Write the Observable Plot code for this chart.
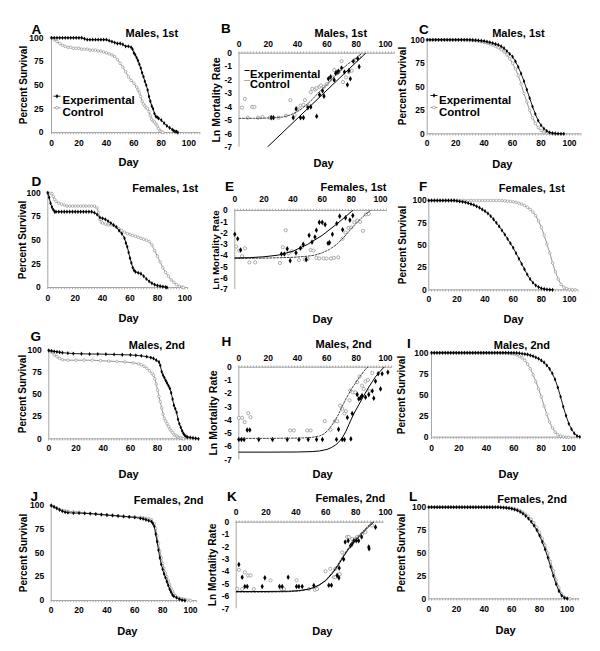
<!DOCTYPE html>
<html><head><meta charset="utf-8">
<script src="https://cdn.jsdelivr.net/npm/d3@7"></script>
<script src="https://cdn.jsdelivr.net/npm/@observablehq/plot@0.6"></script>
<style>
body{margin:0;background:#fff;}
#fig{position:relative;width:600px;height:651px;overflow:hidden;background:#fff;}
#fig svg{position:absolute;}
.ylab{position:absolute;white-space:nowrap;font-family:"Liberation Sans",Arial,Helvetica,sans-serif;font-weight:bold;color:#000;line-height:1;transform:translate(-50%,-50%) rotate(-90deg);}
</style></head><body><div id="fig"></div>
<script>
// ---------- tick labels ----------
const xTicks = [0, 20, 40, 60, 80, 100];
const survTicks = [0, 25, 50, 75, 100];
const lnTicks = [0, -1, -2, -3, -4, -5, -6, -7];

// ---------- observed survival (A, D, G, J): [day, percent] ----------
const A_exp = [[0,100],[2,100],[4,100],[6,100],[8,100],[10,100],[12,100],[14,100],[16,100],[18,100],[20,100],[22,100],[24,99],[26,98],[28,98],[30,98],[32,98],[34,98],[36,98],[38,98],[40,98],[42,97],[44,96],[46,95],[48,94],[50,94],[52,93],[54,91],[56,91],[58,90],[59,88],[60,84],[61,82],[62,79],[63,76],[64,72],[65,68],[66,63],[67,59],[68,54],[69,50],[70,45],[71,38],[72,33],[73,28],[74,25],[75,20],[76,17],[77,16],[78,15],[80,13],[82,10],[84,7],[86,5],[88,3],[89,2],[90,1],[91,1],[92,0]];
const A_ctrl = [[0,100],[2,98],[4,96],[6,94],[8,92],[10,91],[12,90],[14,90],[16,89],[18,89],[20,89],[22,88],[24,88],[26,88],[28,87],[30,87],[32,87],[34,86],[36,86],[38,85],[40,84],[42,83],[44,82],[46,80],[48,77],[50,73],[52,69],[54,64],[56,59],[58,55],[60,52],[62,48],[63,45],[64,42],[65,38],[66,33],[67,30],[68,28],[69,26],[70,25],[71,22],[72,18],[73,14],[74,12],[75,11],[76,9],[77,7],[78,4],[79,2],[80,1],[81,0]];
const D_exp = [[0,100],[1,95],[2,89],[3,85],[4,82],[5,80],[6,80],[8,80],[10,80],[12,80],[14,80],[16,80],[18,80],[20,80],[22,80],[24,80],[26,80],[28,80],[30,80],[32,80],[34,79],[36,77],[38,74],[40,73],[42,72],[44,70],[46,68],[48,66],[50,64],[52,60],[54,57],[56,52],[57,47],[58,43],[59,37],[60,31],[61,26],[62,21],[63,18],[64,16.5],[66,15.5],[68,14.5],[70,12],[72,9],[74,6.5],[76,4.5],[78,3],[80,2],[82,1.5],[84,1],[86,0.5],[87,0]];
const D_ctrl = [[0,100],[2,99.5],[3,99],[4,96],[5,93],[6,91],[8,89],[10,88],[12,87],[14,86],[16,86],[18,86],[20,86],[22,86],[24,86],[26,86],[28,86],[30,86],[32,86],[34,86],[36,84],[37,79],[38,72],[39,69],[40,68],[42,67],[44,66],[46,66],[48,65.5],[50,64],[52,62],[54,60],[56,58.5],[58,57],[60,56],[62,55],[64,54],[66,53],[68,52],[70,51],[72,50],[74,48.5],[76,45],[78,39],[80,33],[82,27],[84,21],[86,16],[88,12],[90,8],[92,5.5],[94,3],[96,1.5],[98,0.5],[99,0]];
const G_exp = [[0,100],[2,99.5],[4,99],[6,98.5],[8,98],[10,97.5],[14,97],[18,96.5],[24,96.3],[30,96],[36,96],[42,95.8],[48,95.5],[54,95.2],[60,95],[64,94.5],[68,94],[72,93],[75,92],[77,91],[79,89],[81,87],[82,83],[83,76],[84,72],[85,69],[86,66],[87,63],[88,60],[89,57],[90,52],[91,45],[92,38],[93,34],[94,30],[95,22],[96,17],[97,13],[98,9],[99,6],[100,4],[101,2.5],[102,2],[104,1.5],[106,1],[108,0.5],[110,0]];
const G_ctrl = [[0,100],[2,98],[4,95],[6,93],[8,91],[10,89.5],[14,89],[20,89],[26,89],[32,89],[38,88.5],[44,88],[50,87.5],[56,87],[62,86],[66,85],[68,84],[70,82],[72,80],[74,77],[76,74],[77,72],[78,68],[79,62],[80,55],[81,48],[82,42],[83,35],[84,28],[85,23],[86,20],[87,17],[88,14],[89,11],[90,9],[91,7],[92,5],[93,4],[94,3],[95,2],[96,1.5],[97,1],[98,0.5],[99,0]];
const J_exp = [[0,100],[2,98.5],[4,97],[6,95.5],[8,94],[10,93],[12,92.5],[16,92],[20,92],[24,91.8],[28,91.5],[32,91],[36,90.5],[40,90],[44,89.5],[48,89],[52,88.5],[56,88],[60,87.5],[64,86.5],[66,86],[68,85],[70,84],[72,83],[73,81],[74,78],[75,70],[76,62],[77,53],[78,45],[79,38],[80,33],[81,28],[82,24],[83,20],[84,16],[85,12],[86,9],[87,6],[88,4.5],[90,3],[92,1.5],[94,0.5],[96,0]];
const J_ctrl = [[0,100],[2,99],[4,97.5],[6,96],[8,95],[10,94.5],[12,94],[16,93.5],[20,93],[24,92],[28,91.5],[32,91],[36,90.5],[40,90],[44,89.5],[48,89],[52,88.5],[56,88],[60,88],[64,87.5],[66,87],[68,86.5],[70,86],[72,85],[74,81],[75,76],[76,68],[77,60],[78,52],[79,45],[80,39],[81,34],[82,29],[83,25],[84,21],[85,17],[86,13],[87,10],[88,7],[89,5],[90,3.5],[92,2.5],[94,1.8],[96,1],[98,0.5],[100,0]];

// ---------- fitted survival (C, F, I, L) on a 2-day grid ----------
const modelDays = [0,2,4,6,8,10,12,14,16,18,20,22,24,26,28,30,32,34,36,38,40,42,44,46,48,50,52,54,56,58,60,62,64,66,68,70,72,74,76,78,80,82,84,86,88,90,92,94,96,98,100,102,104,106,108,110];
const C_exp = [100,100,100,100,100,100,100,100,100,100,100,100,100,100,100,100,99.8,99.6,99.3,99,98.6,98,97.3,96.5,95.5,94.5,93,91,88,85,82,77,71,64,56,47,38,29,21,14,9,5.5,3,1.5,0.7,0.3,0.1,0,0,null,null,null,null,null,null,null];
const C_ctrl = [100,100,100,100,100,100,100,100,100,100,100,100,100,100,99.8,99.6,99.3,99,98.5,98,97.3,96.5,95.5,94.3,93,91.5,89.5,87,84,80,75,69,62,53,43,34,25,17,11,6.5,3.5,1.8,0.8,0.3,0.1,0,null,null,null,null,null,null,null,null,null,null];
const F_exp = [100,100,100,100,100,100,100,100,100,100,99.5,99,98.5,98,97,96,95,93.5,92,90,88,85.5,82.5,79,75,71,66.5,62,57,52,47,41,35,29,23,17,12,8,5,3,1.7,0.9,0.4,0.1,0,null,null,null,null,null,null,null,null,null,null,null];
const F_ctrl = [100,100,100,100,100,100,100,100,100,100,100,100,100,100,100,100,100,100,100,100,100,100,100,100,100,100,99.8,99.6,99.3,99,98.5,98,97,96,94.5,92.5,90,87,83,77,70,61,51,41,30,20,12,6,3,1.2,0.4,0.1,0,null,null,null];
const I_exp = [100,100,100,100,100,100,100,100,100,100,100,100,100,100,100,100,100,100,100,100,100,100,100,100,100,100,100,100,100,100,100,99.8,99.5,99,98.5,98,97,96,94.5,93,91,88.5,85,81,75.5,68.5,59,48,36,25.5,16,9.5,4.5,1.5,0.3,null];
const I_ctrl = [100,100,100,100,100,100,100,100,100,100,100,100,100,100,100,100,100,100,100,100,100,100,100,100,100,100,100,99.7,99.4,99,98.5,97.5,96,94,91,86.5,81,74,66,57,48,37,27,18,11,6,3,1.3,0.5,0.1,0,null,null,null,null,null];
const L_exp = [100,100,100,100,100,100,100,100,100,100,100,100,100,100,100,100,100,100,100,100,100,100,100,100,100,100,99.8,99.6,99.3,98.9,98.3,97.5,96.5,95,93,90.5,87.5,84,80,75,69,62,54,45,35,25,16,8.5,3.5,1,0.2,null,null,null,null,null];
const L_ctrl = [100,100,100,100,100,100,100,100,100,100,100,100,100,100,100,100,100,100,100,100,100,100,100,100,100,100,99.9,99.7,99.5,99.2,98.8,98.2,97.3,96.2,94.5,92.5,90,87,83,78,72.5,66,58.5,50,40.5,30.5,20.5,12,5.5,2,0.5,0,null,null,null,null];

// ---------- ln mortality (B, E, H, K): [day, ln rate] ----------
const B_expPts = [[22,-4.8],[23.5,-4.8],[37,-4.8],[39,-4.15],[42,-4.8],[44,-4.8],[47,-4.05],[49,-4.0],[53,-4.7],[55,-3.1],[57,-2.8],[58,-3.2],[61,-1.9],[62.5,-1.75],[65,-2.0],[66,-1.5],[67,-1.4],[68,-1.35],[70,-1.1],[72,-1.4],[74,-2.35],[75,-1.3],[76,-1.9],[78,-0.6],[81,-0.4],[82,-1.0]];
const B_ctrlPts = [[2,-4.05],[4,-3.4],[6,-4.8],[9,-4.0],[10.5,-4.0],[13,-4.8],[16,-4.75],[21,-4.8],[27,-4.8],[32,-4.65],[35,-3.5],[38,-4.6],[40,-4.15],[42,-3.9],[44,-3.85],[45,-3.5],[47,-3.9],[49,-2.9],[50,-2.65],[52,-2.7],[53,-2.6],[55,-2.5],[56,-2.4],[58,-2.5],[60,-2.3],[62,-2.0],[64,-1.8],[65,-1.25],[67,-1.5],[68,-1.4],[70,-0.6],[71,-2.15],[73,-1.8],[75,-1.4],[77,-1.3],[80,-0.5],[82,-0.3]];
const B_expFit = [[19.3,-7],[86.4,0]];
const B_ctrlFit = [[0,-4.85],[10,-4.85],[20,-4.83],[30,-4.75],[35,-4.6],[40,-4.35],[45,-3.95],[50,-3.45],[55,-2.85],[60,-2.35],[65,-1.75],[70,-1.2],[75,-0.75],[80,-0.35],[84,0]];

const E_expPts = [[0,-2.1],[2,-2.5],[4,-3.5],[32,-3.85],[34,-3.85],[36,-3.4],[38,-4.45],[42,-3.75],[45,-3.35],[47,-3.0],[49,-4.35],[51,-2.2],[53,-2.8],[55,-2.35],[56,-1.75],[58,-1.05],[60,-1.05],[62,-1.25],[64,-2.9],[65,-2.85],[67,-2.1],[70,-1.15],[72,-0.5],[74,-1.7],[76,-0.65],[79,-0.85],[81,-0.45]];
const E_ctrlPts = [[1,-3.2],[3,-3.55],[5,-4.05],[7,-3.35],[10,-4.6],[14,-4.6],[31,-4.65],[33,-3.25],[35,-1.75],[37,-3.8],[39,-3.6],[44,-4.4],[46,-3.25],[48,-4.35],[50,-4.3],[52,-3.5],[54,-3.55],[56,-4.2],[58,-4.25],[61,-4.25],[63,-4.25],[66,-4.25],[68,-4.2],[71,-4.15],[74,-2.5],[76,-1.95],[78,-1.55],[80,-1.5],[82,-1.05],[84,-0.9],[86,-1.0],[88,-1.8],[90,-0.35],[92,-0.3]];
const E_expFit = [[0,-4.2],[10,-4.18],[20,-4.1],[30,-3.95],[40,-3.6],[50,-3.0],[60,-2.2],[70,-1.2],[75,-0.65],[80,-0.1],[81,0]];
const E_ctrlFit = [[0,-4.25],[20,-4.22],[40,-4.15],[50,-4.05],[55,-3.95],[60,-3.75],[65,-3.45],[70,-3.0],[75,-2.35],[80,-1.6],[85,-0.9],[90,-0.3],[93,0]];

const H_expPts = [[0,-5.47],[1.8,-5.47],[3.6,-5.47],[5.7,-4.75],[7.5,-4.75],[13.6,-5.47],[23,-5.47],[33,-5.47],[41,-5.47],[47.3,-5.47],[53,-5.47],[57,-5.47],[66.6,-5.47],[68,-4.7],[70.5,-5.47],[72,-5.47],[76.4,-5.42],[74,-3.8],[77.3,-3.5],[80.7,-2.07],[81.8,-2.4],[83,-2.3],[84,-2.15],[86.4,-2.27],[88.6,-2.07],[91,-1.8],[92,-2.35],[93.2,-1.06],[95,-0.5],[96.6,-1.64],[97.7,-0.5],[101.6,-0.38]];
const H_ctrlPts = [[0,-3.83],[2.3,-3.83],[4,-4.15],[6.4,-3.48],[8,-3.78],[35,-4.78],[37.5,-4.78],[46.6,-4.78],[49,-4.78],[58.6,-4.08],[62.5,-4.73],[65.5,-4.08],[67,-4.08],[69,-2.9],[70.5,-3.15],[72,-3.5],[73,-3.32],[75.5,-2.5],[76,-1.76],[77.7,-1.9],[79.5,-1.9],[80.7,-1.13],[82.3,-0.7],[84,-1.39],[85.2,-1.64],[86.4,-1.08],[88,-0.96],[89,-1.8],[91,-0.43]];
const H_expFit = [[0,-6.42],[20,-6.42],[40,-6.41],[50,-6.38],[55,-6.33],[60,-6.22],[63,-6.08],[66,-5.88],[68,-5.68],[70.5,-5.35],[73,-4.85],[75,-4.35],[77,-3.85],[79.5,-3.3],[82,-2.8],[84,-2.4],[86,-2.0],[88.6,-1.5],[91,-1.1],[93,-0.75],[96,-0.35],[99,0]];
const H_ctrlFit = [[0,-5.38],[20,-5.38],[40,-5.36],[45,-5.34],[50,-5.3],[55,-5.2],[58,-5.05],[61,-4.75],[64,-4.3],[66,-3.95],[68,-3.55],[70.5,-2.95],[73,-2.4],[75,-2.0],[77,-1.6],[79.5,-1.2],[82,-0.8],[84,-0.5],[86,-0.2],[88,0]];

const K_expPts = [[1.8,-3.42],[4,-4.45],[5.8,-5.2],[7.4,-5.2],[17.4,-5.2],[19.2,-4.5],[29,-5.2],[30.8,-5.2],[34.8,-4.45],[40.4,-5.2],[42,-5.2],[44.2,-5.2],[52,-5.12],[62,-5.1],[63.8,-5.1],[67.6,-4.3],[68.8,-4.5],[69,-3.7],[72,-3.0],[73,-1.6],[75,-1.5],[76.6,-1.9],[77.7,-1.75],[78.8,-1.5],[80.4,-1.5],[82,-1.5],[84,-1.2],[88.8,-2.0],[89,-2.15],[93.3,-0.4]];
const K_ctrlPts = [[0.7,-5.4],[1.8,-3.85],[4,-5.4],[5.8,-4.05],[8,-4.3],[9.6,-4.3],[11.8,-5.4],[23,-4.7],[30.4,-5.4],[32,-5.4],[40.4,-4.7],[48.7,-5.4],[52.7,-5.47],[54.2,-5.4],[59.8,-3.96],[63,-3.77],[65.4,-4.45],[66.5,-4.45],[66.5,-3.77],[69.4,-4.2],[71,-2.43],[74.3,-1.2],[75.4,-1.2],[77.7,-1.35],[80,-1.35],[81,-1.2],[84.4,-0.95],[86.6,-0.8],[91,-0.27]];
const K_expFit = [[0,-5.6],[20,-5.6],[35,-5.58],[42,-5.53],[48,-5.42],[52,-5.28],[56,-5.05],[60,-4.72],[64,-4.2],[68,-3.55],[72,-2.75],[76,-2.05],[80,-1.45],[84,-0.95],[88,-0.45],[92,0]];
const K_ctrlFit = [[0,-5.65],[20,-5.65],[35,-5.62],[42,-5.56],[48,-5.44],[52,-5.3],[56,-5.05],[60,-4.68],[64,-4.12],[68,-3.45],[72,-2.65],[76,-1.95],[80,-1.35],[84,-0.85],[88,-0.35],[91,0]];

// ---------- drawing ----------
const fig = document.getElementById("fig");
const FONT = '"Liberation Sans", Arial, Helvetica, sans-serif';
const AX = "#a6a6a6", GRAY = "#8a8a8a";
const hline = {draw(ctx, size) { const r = Math.sqrt(size / Math.PI); ctx.moveTo(-r, 0); ctx.lineTo(r, 0); }};
const zip = (days, vals) => days.map((d, i) => [d, vals[i]]).filter(p => p[1] != null);
const bold = {fontWeight: "bold", fill: "black"};

function panel(c) {
  const [L, T, W, H] = c.cell;
  const ln = c.type === "ln";
  const k = (c.x100 - c.x0) / 100;
  const xEnd = c.x0 + c.xMax * k;
  const at = (px, py) => ({frameAnchor: "top-left", dx: px - c.x0, dy: py - c.yTop});
  const minor = d3.range(0, c.xMax + 0.001, 2);
  const marks = [
    Plot.ruleY([0], {stroke: AX, strokeWidth: 1}),
    Plot.ruleX([0], {stroke: AX, strokeWidth: 1}),
    Plot.axisX({anchor: ln ? "top" : "bottom", ticks: minor, tickSize: 2.2, tickFormat: () => "", stroke: AX, label: null}),
    Plot.text(xTicks, {x: d => d, frameAnchor: ln ? "top" : "bottom", dy: c.tickY - (ln ? c.yTop : c.yBot) + (ln ? 0.7 : 0), fontSize: 8.5, ...bold}),
    Plot.text(ln ? lnTicks : survTicks, {y: d => d, frameAnchor: "left", dx: -c.yPad, textAnchor: "end", fontSize: 8.5, ...bold}),
    Plot.text([c.title], {...at(c.titleX, c.titleY - (ln ? 1 : 0)), fontSize: 11, ...bold}),
    Plot.text([c.letter], {...at(c.letterX, c.letterY - 2), fontSize: 13.5, ...bold}),
    Plot.text(["Day"], {...at(c.dayX, c.dayY), fontSize: 11, ...bold})
  ];
  if (ln) {
    marks.push(
      Plot.dot(c.ctrlPts, {x: d => d[0], y: d => d[1], r: 1.6, stroke: GRAY, fill: "white", strokeWidth: 0.7}),
      Plot.dot(c.expPts, {x: d => d[0], y: d => d[1], r: 1.7, symbol: "diamond", fill: "black"}),
      Plot.line(c.ctrlFit, {x: d => d[0], y: d => d[1], stroke: "#444", strokeWidth: 1, strokeDasharray: "2,1.5", clip: true}),
      Plot.line(c.expFit, {x: d => d[0], y: d => d[1], stroke: "black", strokeWidth: 1, clip: true})
    );
  } else {
    marks.push(
      Plot.line(c.ctrl, {x: d => d[0], y: d => d[1], stroke: GRAY, strokeWidth: 0.9}),
      Plot.dot(c.ctrl, {x: d => d[0], y: d => d[1], r: 1.3, stroke: GRAY, fill: "white", strokeWidth: 0.6}),
      Plot.line(c.exp, {x: d => d[0], y: d => d[1], stroke: "black", strokeWidth: 0.9}),
      Plot.dot(c.exp, {x: d => d[0], y: d => d[1], r: 1.3, symbol: "diamond", fill: "black"})
    );
  }
  if (c.legend) {
    const g = c.legend;
    if (ln) {
      marks.push(
        Plot.dot([0], {...at(g.symX, g.y1), symbol: hline, r: 2.5, stroke: "black", strokeWidth: 1}),
        Plot.dot([0], {...at(g.symX, g.y2), symbol: hline, r: 2.5, stroke: "#555", strokeWidth: 1, strokeDasharray: "1,1"})
      );
    } else {
      marks.push(
        Plot.dot([0], {...at(g.symX, g.y1), symbol: hline, r: 3.5, stroke: "black", strokeWidth: 0.9}),
        Plot.dot([0], {...at(g.symX, g.y1), symbol: "diamond", r: 1.4, fill: "black"}),
        Plot.dot([0], {...at(g.symX, g.y2), symbol: hline, r: 3.5, stroke: GRAY, strokeWidth: 0.9}),
        Plot.dot([0], {...at(g.symX, g.y2), r: 1.4, stroke: GRAY, fill: "white", strokeWidth: 0.6})
      );
    }
    marks.push(
      Plot.text(["Experimental"], {...at(g.textX, g.y1), textAnchor: "start", fontSize: g.size, ...bold}),
      Plot.text(["Control"], {...at(g.textX, g.y2), textAnchor: "start", fontSize: g.size, ...bold})
    );
  }
  const svg = Plot.plot({
    width: W, height: H,
    marginLeft: c.x0 - L, marginRight: L + W - xEnd,
    marginTop: c.yTop - T, marginBottom: T + H - c.yBot,
    x: {domain: [0, c.xMax], axis: null},
    y: {domain: ln ? [-7, 0] : [0, 100], axis: null},
    style: {background: "transparent", fontFamily: FONT, overflow: "visible"},
    marks
  });
  svg.style.left = L + "px";
  svg.style.top = T + "px";
  fig.append(svg);
  // rotated y-axis title
  const lab = document.createElement("div");
  lab.className = "ylab";
  lab.textContent = ln ? "Ln Mortality Rate" : "Percent Survival";
  lab.style.left = c.ylabX + "px";
  lab.style.top = ((c.yTop + c.yBot) / 2) + "px";
  lab.style.fontSize = (c.ylabSize || 10) + "px";
  fig.append(lab);
}

// Row 1
panel({type: "surv", cell: [0, 0, 200, 162], x0: 51, x100: 188.3, xMax: 108, yTop: 37.3, yBot: 132, tickY: 145.7, yPad: 8,
  title: "Males, 1st", titleX: 125, titleY: 29, letter: "A", letterX: 31, letterY: 26, ylabX: 24, dayX: 118, dayY: 158,
  exp: A_exp, ctrl: A_ctrl, legend: {symX: 56.5, textX: 62, y1: 95.7, y2: 107.3, size: 11.5}});
panel({type: "ln", cell: [200, 0, 200, 162], x0: 238.5, x100: 385, xMax: 106, yTop: 52.7, yBot: 146.7, tickY: 40, yPad: 7,
  title: "Males, 1st", titleX: 314, titleY: 30, letter: "B", letterX: 220.5, letterY: 25, ylabX: 216, ylabSize: 10.5, dayX: 313, dayY: 159,
  expPts: B_expPts, ctrlPts: B_ctrlPts, expFit: B_expFit, ctrlFit: B_ctrlFit, legend: {symX: 246.5, textX: 249.5, y1: 70, y2: 80, size: 11.2}});
panel({type: "surv", cell: [400, 0, 200, 162], x0: 426.7, x100: 569, xMax: 108, yTop: 39.3, yBot: 133.3, tickY: 145.7, yPad: 2.5,
  title: "Males, 1st", titleX: 491.7, titleY: 29, letter: "C", letterX: 418.5, letterY: 26, ylabX: 403, dayX: 491.7, dayY: 159.3,
  exp: zip(modelDays, C_exp), ctrl: zip(modelDays, C_ctrl), legend: {symX: 433.5, textX: 438.5, y1: 95, y2: 107, size: 11.5}});
// Row 2
panel({type: "surv", cell: [0, 162, 200, 160], x0: 47.3, x100: 184.3, xMax: 102, yTop: 192.3, yBot: 287, tickY: 300, yPad: 7,
  title: "Females, 1st", titleX: 131.7, titleY: 184, letter: "D", letterX: 31, letterY: 178, ylabX: 23, dayX: 118, dayY: 314,
  exp: D_exp, ctrl: D_ctrl});
panel({type: "ln", cell: [200, 162, 200, 160], x0: 234.3, x100: 380, xMax: 104, yTop: 210, yBot: 289, tickY: 194.3, yPad: 7,
  title: "Females, 1st", titleX: 320, titleY: 184, letter: "E", letterX: 224.5, letterY: 183, ylabX: 216, ylabSize: 9.8, dayX: 312, dayY: 315,
  expPts: E_expPts, ctrlPts: E_ctrlPts, expFit: E_expFit, ctrlFit: E_ctrlFit});
panel({type: "surv", cell: [400, 162, 200, 160], x0: 428.3, x100: 569, xMax: 106, yTop: 200, yBot: 289.3, tickY: 301.7, yPad: 2,
  title: "Females, 1st", titleX: 498.3, titleY: 184, letter: "F", letterX: 418.5, letterY: 183, ylabX: 403, dayX: 503, dayY: 315,
  exp: zip(modelDays, F_exp), ctrl: zip(modelDays, F_ctrl)});
// Row 3
panel({type: "surv", cell: [0, 322, 200, 160], x0: 48.3, x100: 184.3, xMax: 111, yTop: 350, yBot: 438.3, tickY: 450.7, yPad: 7,
  title: "Males, 2nd", titleX: 128.3, titleY: 340.7, letter: "G", letterX: 30, letterY: 333, ylabX: 23, dayX: 118, dayY: 470,
  exp: G_exp, ctrl: G_ctrl});
panel({type: "ln", cell: [200, 322, 200, 160], x0: 238.3, x100: 385, xMax: 105, yTop: 366.7, yBot: 459.3, tickY: 353.3, yPad: 7,
  title: "Males, 2nd", titleX: 315, titleY: 340.7, letter: "H", letterX: 221, letterY: 338, ylabX: 213, ylabSize: 10.5, dayX: 312, dayY: 470,
  expPts: H_expPts, ctrlPts: H_ctrlPts, expFit: H_expFit, ctrlFit: H_ctrlFit});
panel({type: "surv", cell: [400, 322, 200, 160], x0: 431, x100: 568.3, xMax: 107, yTop: 352.3, yBot: 436.7, tickY: 450, yPad: 3,
  title: "Males, 2nd", titleX: 493.3, titleY: 340.7, letter: "I", letterX: 406.5, letterY: 339.5, ylabX: 402, dayX: 498, dayY: 470,
  exp: zip(modelDays, I_exp), ctrl: zip(modelDays, I_ctrl)});
// Row 4
panel({type: "surv", cell: [0, 482, 200, 169], x0: 50.7, x100: 190, xMax: 105, yTop: 505, yBot: 600, tickY: 612.7, yPad: 7,
  title: "Females, 2nd", titleX: 133.3, titleY: 496, letter: "J", letterX: 30, letterY: 493, ylabX: 24, dayX: 116.7, dayY: 626.7,
  exp: J_exp, ctrl: J_ctrl});
panel({type: "ln", cell: [200, 482, 200, 169], x0: 235.7, x100: 385, xMax: 99, yTop: 521.7, yBot: 608.3, tickY: 507.3, yPad: 7,
  title: "Females, 2nd", titleX: 315, titleY: 495, letter: "K", letterX: 226.5, letterY: 493, ylabX: 213, ylabSize: 10.2, dayX: 311.7, dayY: 626.7,
  expPts: K_expPts, ctrlPts: K_ctrlPts, expFit: K_expFit, ctrlFit: K_ctrlFit});
panel({type: "surv", cell: [400, 482, 200, 169], x0: 428.3, x100: 566.7, xMax: 109, yTop: 506.7, yBot: 598.3, tickY: 611, yPad: 2.5,
  title: "Females, 2nd", titleX: 496.7, titleY: 495, letter: "L", letterX: 408.5, letterY: 493, ylabX: 402, dayX: 495, dayY: 626,
  exp: zip(modelDays, L_exp), ctrl: zip(modelDays, L_ctrl)});
</script>
</body></html>
